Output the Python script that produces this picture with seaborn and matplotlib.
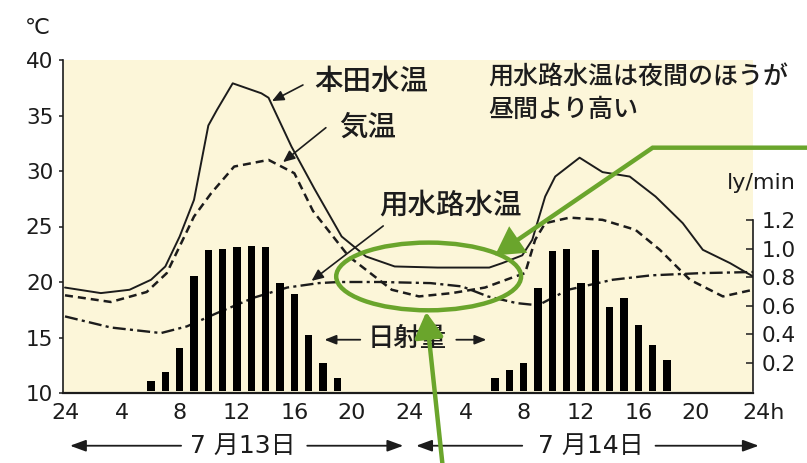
import matplotlib
matplotlib.use("Agg")
import matplotlib.pyplot as plt
import seaborn as sns
from matplotlib.patches import Ellipse, FancyArrowPatch
from matplotlib.path import Path
from matplotlib.transforms import ScaledTranslation

# Hours counted from 0:00 on 13 July (0-48 h)
paddy_hours = [0, 2.5, 4.5, 6, 7, 8, 9, 10, 10.6, 11.7, 13.7, 14.2, 15.8, 17.4, 19.3, 21,
               23, 26, 29.6, 30.5, 31.9, 32.6, 33.5, 34.2, 35.9, 37.5, 39.4, 41.2, 43.1,
               44.5, 46.4, 48]
paddy_temp = [19.5, 19.0, 19.3, 20.2, 21.4, 24.1, 27.4, 34.1, 35.5, 37.9, 37.0, 36.6, 32.2,
              28.4, 24.1, 22.3, 21.4, 21.3, 21.3, 21.7, 22.4, 23.8, 27.7, 29.5, 31.2, 29.9,
              29.5, 27.7, 25.3, 22.9, 21.7, 20.5]

air_hours = [0, 3.2, 5.7, 7.1, 9.0, 10.2, 11.8, 14.2, 16.0, 17.3, 19.8, 21.6, 22.8, 24.7,
             27.0, 29.3, 31.2, 32.1, 32.8, 33.5, 35.2, 37.5, 39.8, 41.5, 43.6, 45.9, 48]
air_temp = [18.8, 18.2, 19.1, 20.8, 25.9, 28.0, 30.4, 31.0, 29.8, 26.4, 22.3, 20.5, 19.3,
            18.7, 19.0, 19.5, 20.4, 20.8, 23.8, 25.3, 25.8, 25.6, 24.7, 22.9, 20.2, 18.7, 19.3]

canal_hours = [0, 3.2, 6.7, 8.5, 10.6, 13.2, 15.5, 17.7, 19.1, 22, 25.5, 27.7, 29.5, 31.5,
               33.0, 35.1, 38.2, 40.9, 44.4, 48]
canal_temp = [16.9, 15.9, 15.4, 16.0, 17.2, 18.6, 19.5, 19.9, 20.0, 20.0, 19.9, 19.6, 18.7,
              18.1, 17.9, 19.3, 20.2, 20.6, 20.8, 20.9]

sun_hours = [6, 7, 8, 9, 10, 11, 12, 13, 14, 15, 16, 17, 18, 19,
             30, 31, 32, 33, 34, 35, 36, 37, 38, 39, 40, 41, 42]
sun_rad = [0.07, 0.13, 0.30, 0.81, 0.99, 1.00, 1.01, 1.02, 1.01, 0.76, 0.68, 0.39, 0.20, 0.09,
           0.09, 0.15, 0.20, 0.72, 0.98, 1.00, 0.76, 0.99, 0.59, 0.65, 0.46, 0.32, 0.22]

hour_ticks = [0, 4, 8, 12, 16, 20, 24, 28, 32, 36, 40, 44, 48]
hour_labels = ["24", "4", "8", "12", "16", "20", "24", "4", "8", "12", "16", "20", "24h"]
temp_ticks = [10, 15, 20, 25, 30, 35, 40]
rad_ticks = [0.2, 0.4, 0.6, 0.8, 1.0, 1.2]
rad_labels = ["0.2", "0.4", "0.6", "0.8", "1.0", "1.2"]

sns.set_theme(style="white")
plt.rcParams["font.family"] = ["DejaVu Sans", "Noto Sans CJK JP"]

INK = "#1c1c1c"
GREEN = "#6aa52c"
PAPER = "#fcf6d9"

fig = plt.figure(figsize=(8.07, 4.63), dpi=100)
fig.patch.set_facecolor("white")
ax = fig.add_axes([63 / 807, 70 / 463, 690 / 807, 333 / 463])
ax.set_facecolor(PAPER)
ax2 = ax.twinx()

# temperature curves
sns.lineplot(x=paddy_hours, y=paddy_temp, ax=ax, color=INK, lw=1.4,
             estimator=None, sort=False)
sns.lineplot(x=air_hours, y=air_temp, ax=ax, color=INK, lw=1.8,
             linestyle=(0, (3.2, 2.0)), estimator=None, sort=False)
sns.lineplot(x=canal_hours, y=canal_temp, ax=ax, color=INK, lw=1.7,
             linestyle=(0, (5.5, 1.8, 1.3, 1.8)), estimator=None, sort=False)

# hourly solar radiation
sns.barplot(x=sun_hours, y=sun_rad, ax=ax2, native_scale=True, color="black",
            width=0.52, saturation=1, edgecolor="none")

ax.set_xlim(-0.14, 48.0)
ax.set_ylim(10, 40)
ax2.set_ylim(-0.014, 2.323)
ax.set_xlabel("")
ax.set_ylabel("")
ax2.set_xlabel("")
ax2.set_ylabel("")

ax.set_xticks(hour_ticks)
ax.set_xticklabels(hour_labels)
ax.set_yticks(temp_ticks)
ax.set_yticklabels([str(t) for t in temp_ticks])
ax2.set_yticks(rad_ticks)
ax2.set_yticklabels(rad_labels)

for a in (ax, ax2):
    for s in a.spines.values():
        s.set_visible(False)
ax.spines["left"].set_visible(True)
ax.spines["left"].set_color(INK)
ax.spines["left"].set_linewidth(1.2)
ax.spines["bottom"].set_visible(True)
ax.spines["bottom"].set_color(INK)
ax.spines["bottom"].set_linewidth(1.6)
ax2.spines["right"].set_visible(True)
ax2.spines["right"].set_color(INK)
ax2.spines["right"].set_linewidth(1.2)
ax2.spines["right"].set_bounds(0, 1.2)

ax.tick_params(axis="y", direction="out", length=3, width=1.1, pad=4,
               labelsize=15.5, colors=INK, left=True)
ax.tick_params(axis="x", length=0, pad=7, labelsize=16, colors=INK)
ax2.tick_params(axis="y", direction="in", length=5, width=1.1, pad=6,
                labelsize=15.5, colors=INK, right=True)

last = ax.get_xticklabels()[-1]
last.set_transform(last.get_transform() + ScaledTranslation(0.11, 0, fig.dpi_scale_trans))

# unit labels
ax.text(-1.95, 42.9, "℃", fontsize=16, color=INK, ha="center", va="center")
ax.text(48.6, 28.9, "ly/min", fontsize=16, color=INK, ha="center", va="center")

# series labels with leader arrows
leader = dict(arrowstyle="-|>,head_length=0.5,head_width=0.22", color=INK, lw=1.2,
              shrinkA=0, shrinkB=0, mutation_scale=14)
ax.text(21.4, 38.0, "本田水温", fontsize=20.5, color=INK, ha="center", va="center",
        weight="medium")
ax.annotate("", xy=(14.44, 36.3), xytext=(16.6, 37.75), arrowprops=leader)
ax.text(21.1, 33.9, "気温", fontsize=20.5, color=INK, ha="center", va="center",
        weight="medium")
ax.annotate("", xy=(15.21, 30.8), xytext=(18.2, 33.9), arrowprops=leader)
ax.text(26.9, 26.9, "用水路水温", fontsize=20.5, color=INK, ha="center", va="center",
        weight="medium")
ax.annotate("", xy=(17.2, 20.1), xytext=(22.2, 25.05), arrowprops=leader)

ax.text(29.5, 38.45, "用水路水温は夜間のほうが", fontsize=18, color=INK,
        ha="left", va="center", weight="medium")
ax.text(29.5, 35.5, "昼間より高い", fontsize=18, color=INK, ha="left", va="center",
        weight="medium")

# radiation label between the two days
ax.text(23.85, 14.8, "日射量", fontsize=19, color=INK, ha="center", va="center",
        weight="medium")
thin = dict(arrowstyle="-|>,head_length=0.5,head_width=0.2", color=INK, lw=1.3,
            shrinkA=0, shrinkB=0, mutation_scale=14)
ax.annotate("", xy=(18.1, 14.8), xytext=(20.6, 14.8), arrowprops=thin)
ax.annotate("", xy=(29.4, 14.8), xytext=(27.3, 14.8), arrowprops=thin)

# day spans under the axis
yd = 5.25
ax.text(12.4, yd, "7 月13日", fontsize=18, color=INK, ha="center", va="center")
ax.text(36.7, yd, "7 月14日", fontsize=18, color=INK, ha="center", va="center")
day_arrow = dict(arrowstyle="-|>,head_length=0.6,head_width=0.22", color=INK, lw=1.3,
                 shrinkA=0, shrinkB=0, mutation_scale=16)
for x0, x1 in [(8.1, 0.35), (16.9, 23.6), (31.9, 24.5), (41.2, 48.4)]:
    ax.annotate("", xy=(x1, yd), xytext=(x0, yd), arrowprops=day_arrow,
                annotation_clip=False)

# green highlight of the night-time canal temperature
ell = Ellipse((25.37, 20.5), 12.9, 6.1, transform=ax.transData, fill=False,
              edgecolor=GREEN, lw=3.2, clip_on=False, zorder=10)
ax2.add_patch(ell)
bent = Path([(52.0, 32.1), (41.0, 32.1), (30.0, 22.4)],
            [Path.MOVETO, Path.LINETO, Path.LINETO])
a1 = FancyArrowPatch(path=bent, arrowstyle="-|>,head_length=0.7,head_width=0.4",
                     mutation_scale=22, color=GREEN, lw=3.2, transform=ax.transData,
                     clip_on=False, zorder=10, joinstyle="miter")
ax2.add_patch(a1)
a2 = FancyArrowPatch((26.35, 3.4), (25.2, 17.3), arrowstyle="-|>,head_length=0.7,head_width=0.4",
                     mutation_scale=22, color=GREEN, lw=3.2, transform=ax.transData,
                     clip_on=False, zorder=10, shrinkA=0, shrinkB=0)
ax2.add_patch(a2)

fig.savefig("out.png", dpi=100, facecolor="white")
